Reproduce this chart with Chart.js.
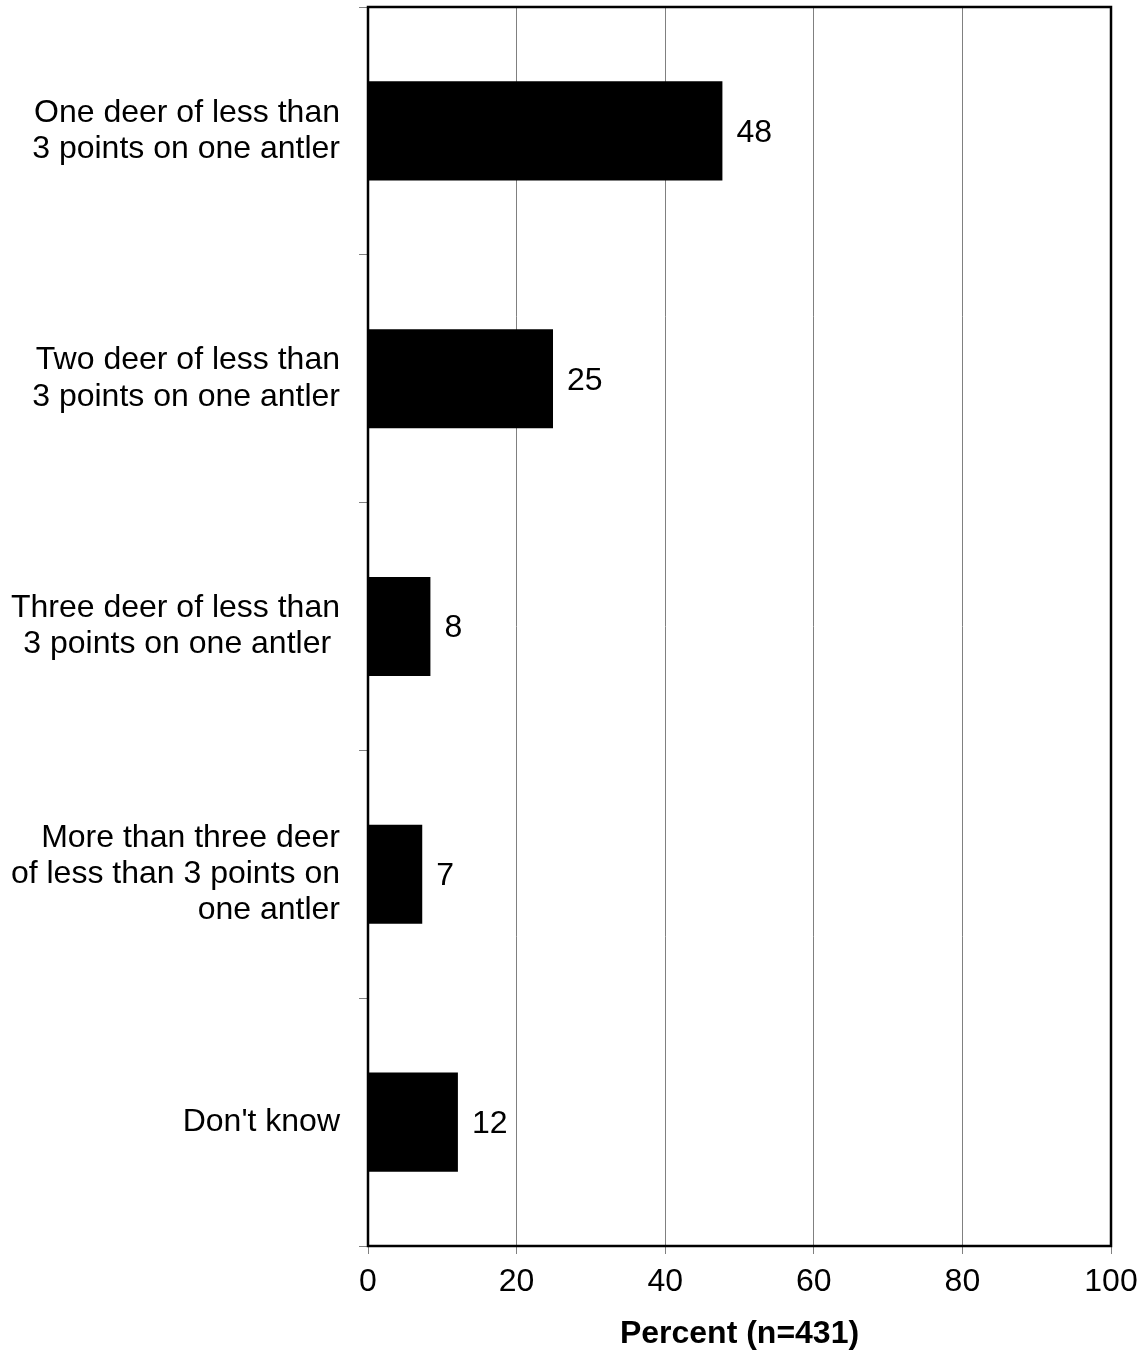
<!DOCTYPE html>
<html lang="en">
<head>
  <meta charset="UTF-8">
  <title>Deer antler points</title>
  <script src="https://cdn.jsdelivr.net/npm/chart.js"></script>
  <style>
    body { margin: 0; background: #fff; }
    #wrap { width: 1142px; height: 1353px; }
  </style>
</head>
<body>
  <div id="wrap"><canvas id="grafico"></canvas></div>

  <script>
    const categorias = [
      ['One deer of less than', '3 points on one antler'],
      ['Two deer of less than', '3 points on one antler'],
      ['Three deer of less than', '3 points on one antler '],
      ['More than three deer', 'of less than 3 points on', 'one antler'],
      "Don't know"
    ];
    const valores = [47.7, 24.9, 8.4, 7.3, 12.1];
    const rotulos = ['48', '25', '8', '7', '12'];
    const eixoX = { min: 0, max: 100, passo: 20 };
    const tituloX = 'Percent (n=431)';

    const fonte = 'Liberation Sans, Arial, sans-serif';

    // moldura preta e rótulos dos valores
    const extras = {
      id: 'extras',
      afterDatasetsDraw(chart) {
        const ctx = chart.ctx;
        const a = chart.chartArea;
        const meta = chart.getDatasetMeta(0);
        ctx.save();
        ctx.font = '32px ' + fonte;
        ctx.fillStyle = '#000';
        ctx.textAlign = 'left';
        ctx.textBaseline = 'middle';
        meta.data.forEach((bar, i) => {
          ctx.fillText(rotulos[i], bar.x + 14, bar.y + 2);
        });
        ctx.strokeStyle = '#000';
        ctx.lineWidth = 2.5;
        ctx.strokeRect(a.left, a.top, a.right - a.left, a.bottom - a.top);
        ctx.restore();
      }
    };

    new Chart(document.getElementById('grafico'), {
      type: 'bar',
      data: {
        labels: categorias,
        datasets: [{
          data: valores,
          backgroundColor: '#000',
          borderWidth: 0,
          categoryPercentage: 1,
          barPercentage: 0.4
        }]
      },
      options: {
        indexAxis: 'y',
        responsive: true,
        maintainAspectRatio: false,
        animation: false,
        layout: { padding: { left: 0, right: 31, top: 7, bottom: 0 } },
        plugins: {
          legend: { display: false },
          tooltip: { enabled: false }
        },
        scales: {
          x: {
            min: eixoX.min,
            max: eixoX.max,
            ticks: {
              stepSize: eixoX.passo,
              color: '#000',
              font: { size: 32, family: fonte },
              padding: 9
            },
            grid: { color: '#808080', lineWidth: 1, tickLength: 8 },
            border: { display: false },
            title: {
              display: true,
              text: tituloX,
              color: '#000',
              font: { size: 32, weight: 'bold', family: fonte },
              padding: { top: 0, bottom: 0 }
            },
            afterFit(scale) {
              scale.height = 107;
              scale.paddingLeft = 0;
              scale.paddingRight = 0;
            }
          },
          y: {
            ticks: {
              color: '#000',
              font: { size: 32, family: fonte, lineHeight: 1.13 },
              padding: 19
            },
            grid: {
              offset: true,
              drawOnChartArea: false,
              color: '#808080',
              tickLength: 9
            },
            border: { display: false },
            afterFit(scale) {
              scale.width = 368;
              scale.paddingTop = 0;
              scale.paddingBottom = 0;
            }
          }
        }
      },
      plugins: [extras]
    });
  </script>
</body>
</html>
